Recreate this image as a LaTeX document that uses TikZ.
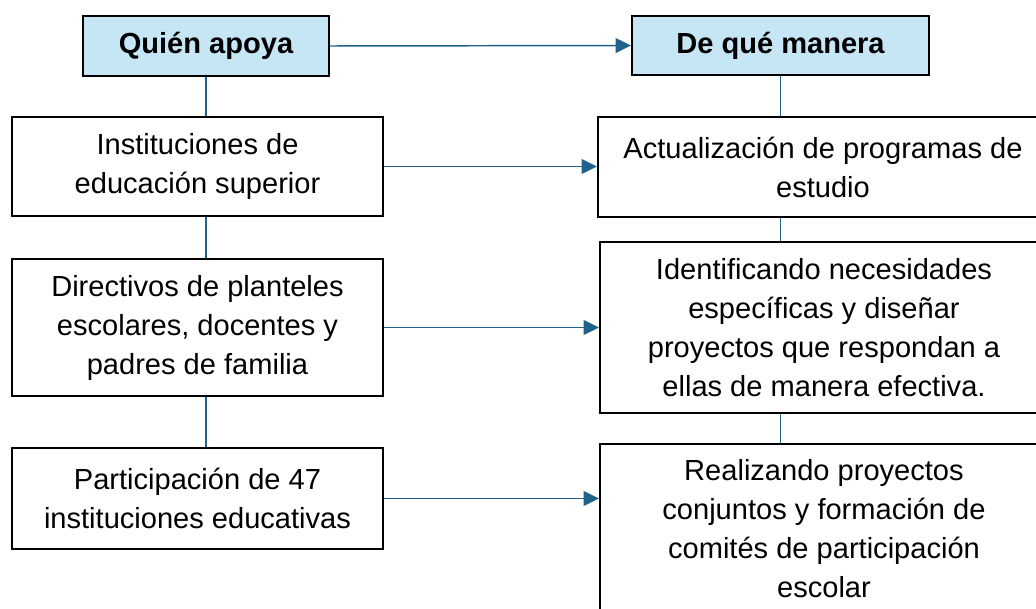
\documentclass[tikz,border=0pt]{standalone}
\usepackage{fontspec}
\setmainfont{Liberation Sans}
\usetikzlibrary{arrows.meta}

\definecolor{headblue}{RGB}{198,230,245}
\definecolor{linkblue}{RGB}{31,99,140}

\begin{document}
\begin{tikzpicture}[x=0.75pt, y=-0.75pt,
    font=\fontsize{21.8}{29.25}\selectfont,
    head/.style={draw=black, line width=1.5pt, fill=headblue, font=\fontsize{21.8}{29.25}\selectfont\bfseries},
    item/.style={draw=black, line width=1.5pt, fill=white, align=center, inner sep=0pt},
    link/.style={draw=linkblue, line width=1.1pt},
    goto/.style={link, -{Triangle[length=11.5pt,width=11pt]}}]
    \clip (0, 0) rectangle (1036, 609);

    \node[head, minimum width=184.5pt, minimum height=45pt] (qa) at (206, 46) {Quién apoya};
    \node[head, minimum width=222.75pt, minimum height=44.25pt] (dqm) at (780.5, 45.5) {De qué manera};

    \node[item, minimum width=278.25pt, minimum height=74.25pt] (l1) at (197.5, 166.5)
        {Instituciones de\\educación superior};
    \node[item, minimum width=278.25pt, minimum height=102.75pt] (l2) at (197.5, 327.5)
        {Directivos de planteles\\escolares, docentes y\\padres de familia};
    \node[item, minimum width=278.25pt, minimum height=75.75pt] (l3) at (197.5, 498.5)
        {Participación de 47\\instituciones educativas};

    \node[item, minimum width=337.5pt, minimum height=75pt] (r1) at (823, 167)
        {Actualización de programas de\\estudio};
    \node[item, minimum width=336pt, minimum height=128.25pt] (r2) at (824, 327.5)
        {Identificando necesidades\\específicas y diseñar\\proyectos que respondan a\\ellas de manera efectiva.};
    \node[item, minimum width=336pt, minimum height=127.5pt] (r3) at (824, 529)
        {Realizando proyectos\\conjuntos y formación de\\comités de participación\\escolar};

    % left column
    \draw[link] (qa.south) -- (qa.south |- l1.north);
    \draw[link] (l1.south -| qa.south) -- (qa.south |- l2.north);
    \draw[link] (l2.south -| qa.south) -- (qa.south |- l3.north);

    % right column
    \draw[link] (dqm.south) -- (dqm.south |- r1.north);
    \draw[link] (r1.south -| dqm.south) -- (dqm.south |- r2.north);
    \draw[link] (r2.south -| dqm.south) -- (dqm.south |- r3.north);

    % arrows across
    \draw[goto] (qa.east) -- (dqm.west);
    \draw[goto] (l1.east) -- (l1.east -| r1.west);
    \draw[goto] (l2.east) -- (l2.east -| r2.west);
    \draw[goto] (l3.east) -- (l3.east -| r3.west);
\end{tikzpicture}
\end{document}
